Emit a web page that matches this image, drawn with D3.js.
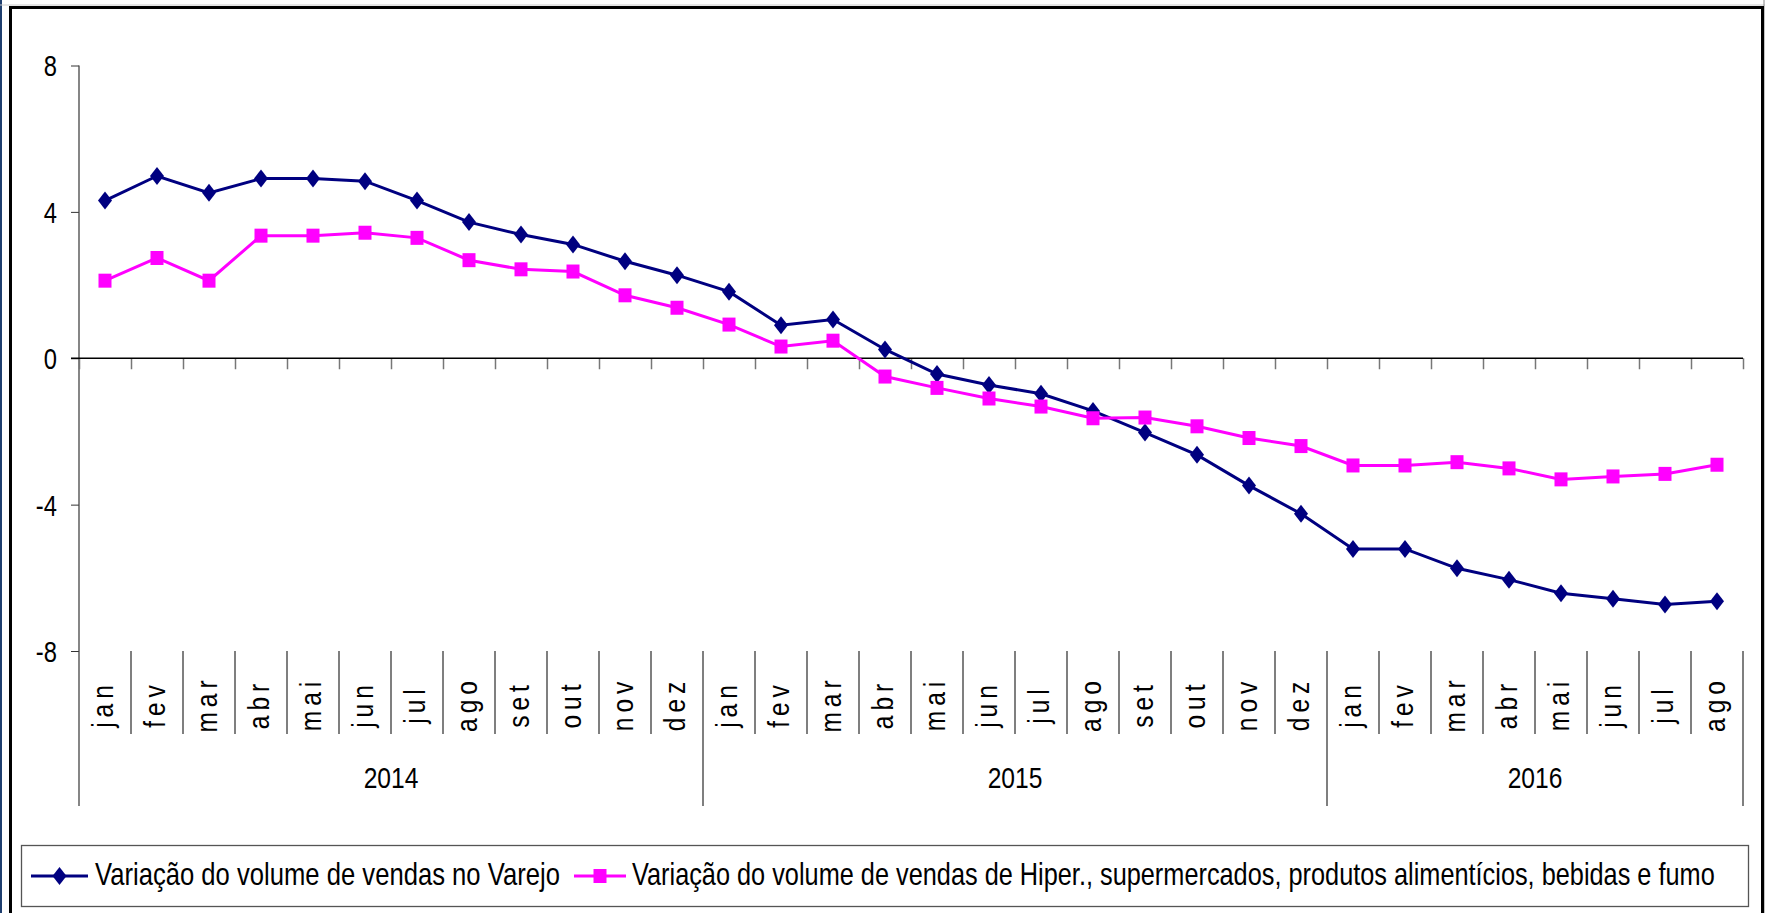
<!DOCTYPE html>
<html>
<head>
<meta charset="utf-8">
<script src="https://cdn.jsdelivr.net/npm/d3@7"></script>
<style>
  html, body { margin: 0; padding: 0; background: #fff; }
  svg { display: block; font-family: "Liberation Sans Narrow", "Arial Narrow", "Liberation Sans", Arial, sans-serif; }
</style>
</head>
<body>
<svg id="svg"></svg>
<script>
const width = 1765, height = 913;

const years = ['2014', '2015', '2016'];
const months = ['jan', 'fev', 'mar', 'abr', 'mai', 'jun', 'jul', 'ago', 'set', 'out', 'nov', 'dez',
                'jan', 'fev', 'mar', 'abr', 'mai', 'jun', 'jul', 'ago', 'set', 'out', 'nov', 'dez',
                'jan', 'fev', 'mar', 'abr', 'mai', 'jun', 'jul', 'ago'];
const varejo = [4.31, 4.98, 4.52, 4.91, 4.91, 4.84, 4.31, 3.72, 3.38, 3.11, 2.65, 2.27,
                1.82, 0.90, 1.06, 0.24, -0.43, -0.73, -0.97, -1.44, -2.03, -2.64, -3.48, -4.25,
                -5.21, -5.21, -5.74, -6.05, -6.42, -6.57, -6.73, -6.64];
const hiper = [2.12, 2.74, 2.12, 3.35, 3.35, 3.43, 3.29, 2.68, 2.43, 2.37, 1.72, 1.38,
               0.92, 0.32, 0.48, -0.50, -0.81, -1.10, -1.32, -1.64, -1.62, -1.86, -2.18, -2.40,
               -2.93, -2.93, -2.84, -3.01, -3.31, -3.23, -3.16, -2.91];
const yTicks = [-8, -4, 0, 4, 8];
const seriesNames = ['Variação do volume de vendas no Varejo',
  'Variação do volume de vendas de Hiper., supermercados, produtos alimentícios, bebidas e fumo'];

const navy = '#000080', pink = '#ff00ff';
// the original uses a narrow face; squeeze the regular one horizontally
const squeeze = 0.82;

const svg = d3.select('#svg').attr('width', width).attr('height', height);

// page border and chart frame
svg.append('line').attr('x1', 1).attr('x2', 1).attr('y1', 0).attr('y2', height)
  .attr('stroke', '#1f3f6f').attr('stroke-width', 2);
svg.append('line').attr('x1', 0).attr('x2', width).attr('y1', 5).attr('y2', 5)
  .attr('stroke', '#ccc').attr('stroke-width', 1);
svg.append('line').attr('x1', width - 1).attr('x2', width - 1).attr('y1', 0).attr('y2', height)
  .attr('stroke', '#888').attr('stroke-width', 1);
svg.append('rect').attr('x', 10.5).attr('y', 7.5).attr('width', 1752).attr('height', 920)
  .attr('fill', 'none').attr('stroke', '#000').attr('stroke-width', 3);

const x = d3.scaleLinear().domain([0, months.length]).range([79, 1743]);
const y = d3.scaleLinear().domain([-8, 8]).range([651, 65.5]);
const bottomRow = 734, bottomYear = 806;

// y axis
const yAxis = svg.append('g').attr('transform', `translate(${x(0)},0)`)
  .call(d3.axisLeft(y).tickValues(yTicks).tickSize(8).tickFormat(d => String(d)));
yAxis.select('.domain').remove();
yAxis.selectAll('.tick line').attr('stroke', '#333');
yAxis.selectAll('.tick text')
  .attr('x', 0).attr('dy', '0.36em')
  .attr('transform', `translate(-22,0) scale(${squeeze},1)`)
  .attr('font-size', 29).attr('fill', '#000').attr('font-family', 'inherit');
svg.append('line').attr('x1', x(0)).attr('x2', x(0)).attr('y1', y(8)).attr('y2', bottomYear)
  .attr('stroke', '#444').attr('stroke-width', 1.3);

// x axis at zero
const xAxis = svg.append('g').attr('transform', `translate(0,${y(0)})`)
  .call(d3.axisBottom(x).tickValues(d3.range(months.length + 1)).tickSize(11).tickFormat(''));
xAxis.select('.domain').remove();
xAxis.selectAll('.tick line').attr('stroke', '#777').attr('stroke-width', 1.5);
svg.append('line').attr('x1', x(0) - 8).attr('x2', x(months.length)).attr('y1', y(0)).attr('y2', y(0))
  .attr('stroke', '#000').attr('stroke-width', 1.5);

// category separators
svg.selectAll('line.sep')
  .data(d3.range(1, months.length + 1))
  .enter()
  .append('line')
    .attr('class', 'sep')
    .attr('x1', d => x(d)).attr('x2', d => x(d))
    .attr('y1', y(-8))
    .attr('y2', d => (d % 12 === 0 || d === months.length) ? bottomYear : bottomRow)
    .attr('stroke', '#555').attr('stroke-width', 1.5);

// month labels
svg.selectAll('text.month')
  .data(months)
  .enter()
  .append('text')
    .attr('class', 'month')
    .attr('transform', (d, i) => `translate(${x(i + 0.5) + 8},704) rotate(-90) scale(${squeeze},1)`)
    .attr('text-anchor', 'middle')
    .attr('font-size', 30)
    .attr('letter-spacing', 6)
    .text(d => d);

// year labels
svg.selectAll('text.year')
  .data(years)
  .enter()
  .append('text')
    .attr('class', 'year')
    .attr('transform', (d, i) =>
      `translate(${x(Math.min(i * 12 + 6, (i * 12 + months.length) / 2))},788) scale(${squeeze},1)`)
    .attr('text-anchor', 'middle')
    .attr('font-size', 30)
    .text(d => d);

// series
const line = d3.line().x((d, i) => x(i + 0.5)).y(d => y(d));
const diamond = 'M0,-9L7,0L0,9L-7,0Z';

svg.append('path').datum(varejo).attr('d', line)
  .attr('fill', 'none').attr('stroke', navy).attr('stroke-width', 3);
svg.append('path').datum(hiper).attr('d', line)
  .attr('fill', 'none').attr('stroke', pink).attr('stroke-width', 3);

svg.selectAll('path.dia')
  .data(varejo)
  .enter()
  .append('path')
    .attr('class', 'dia')
    .attr('d', diamond)
    .attr('transform', (d, i) => `translate(${x(i + 0.5)},${y(d)})`)
    .attr('fill', navy);

svg.selectAll('rect.sq')
  .data(hiper)
  .enter()
  .append('rect')
    .attr('class', 'sq')
    .attr('x', (d, i) => x(i + 0.5) - 6.5)
    .attr('y', d => y(d) - 7)
    .attr('width', 13).attr('height', 14)
    .attr('fill', pink);

// legend
svg.append('rect').attr('x', 21.5).attr('y', 845.5).attr('width', 1727).attr('height', 61)
  .attr('fill', '#fff').attr('stroke', '#555').attr('stroke-width', 1.3);

const legendItems = [
  {name: seriesNames[0], color: navy, x0: 31, x1: 88, tx: 95, tw: 465, shape: 'diamond'},
  {name: seriesNames[1], color: pink, x0: 574, x1: 626, tx: 632, tw: 1083, shape: 'square'}
];
const lg = svg.selectAll('g.legend')
  .data(legendItems)
  .enter()
  .append('g')
    .attr('class', 'legend');
lg.append('line')
  .attr('x1', d => d.x0).attr('x2', d => d.x1).attr('y1', 876).attr('y2', 876)
  .attr('stroke', d => d.color).attr('stroke-width', 3);
lg.append('path')
  .attr('d', d => d.shape === 'diamond' ? diamond : 'M-6.5,-7H6.5V7H-6.5Z')
  .attr('transform', d => `translate(${(d.x0 + d.x1) / 2},876)`)
  .attr('fill', d => d.color);
lg.append('text')
  .attr('font-size', 32)
  .text(d => d.name)
  .attr('transform', function(d) {
    // squeeze each label to the width it has in the original
    const k = d.tw / this.getComputedTextLength();
    return `translate(${d.tx},885) scale(${k},1)`;
  });
</script>
</body>
</html>
